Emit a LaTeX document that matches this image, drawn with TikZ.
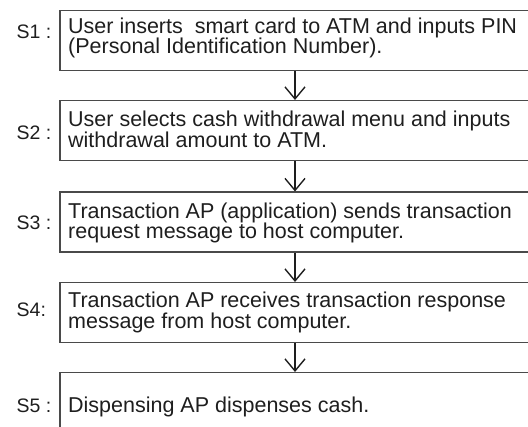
\documentclass[tikz,border=0pt]{standalone}
\usepackage{fontspec}
\setmainfont{Liberation Sans}
\usetikzlibrary{arrows.meta}
\definecolor{ink}{HTML}{1E1E1E}
\definecolor{edge}{HTML}{4A4A4A}
\tikzset{
  stepbox/.style={draw=edge, line width=1.3pt, rectangle, minimum width=470pt, minimum height=60pt, anchor=north, inner sep=0pt},
  txt/.style={anchor=base west, inner sep=0pt, text=ink, font=\fontsize{21.5}{22}\selectfont},
  lbl/.style={anchor=base west, inner sep=0pt, text=ink, font=\fontsize{19.5}{20}\selectfont},
  arr/.style={draw=ink, line width=1.4pt, -{Straight Barb[length=12pt,width=20pt,line width=1.4pt]}}
}
\begin{document}
\begin{tikzpicture}[x=1pt,y=-1pt]
\useasboundingbox (0,0) rectangle (528,427);
\clip (0,0) rectangle (528,427);
\node[stepbox] (b1) at (295,10) {};
\node[stepbox] (b2) at (295,100) {};
\node[stepbox] (b3) at (295,191.5) {};
\node[stepbox] (b4) at (295,282) {};
\node[stepbox] (b5) at (295,372) {};
\node[lbl] (l1) at (16.5,39) {S1 :};
\node[lbl] (l2) at (16.5,140) {S2 :};
\node[lbl] (l3) at (16.5,230) {S3 :};
\node[lbl] (l4) at (16.5,316.7) {S4:};
\node[lbl] (l5) at (16.5,412.5) {S5 :};
\node[txt] (t1a) at (68,33.5) {User inserts\ \ smart card to ATM and inputs PIN};
\node[txt] (t1b) at (68,54) {(Personal Identification Number).};
\node[txt] (t2a) at (68,126.7) {User selects cash withdrawal menu and inputs};
\node[txt] (t2b) at (68,147.5) {withdrawal amount to ATM.};
\node[txt] (t3a) at (68,218.3) {Transaction AP (application) sends transaction};
\node[txt] (t3b) at (68,239) {request message to host computer.};
\node[txt] (t4a) at (68,307.7) {Transaction AP receives transaction response};
\node[txt] (t4b) at (68,328.5) {message from host computer.};
\node[txt] (t5a) at (68,413) {Dispensing AP dispenses cash.};
\draw[arr] (b1.south) -- (b2.north);
\draw[arr] (b2.south) -- (b3.north);
\draw[arr] (b3.south) -- (b4.north);
\draw[arr] (b4.south) -- (b5.north);
\end{tikzpicture}
\end{document}
